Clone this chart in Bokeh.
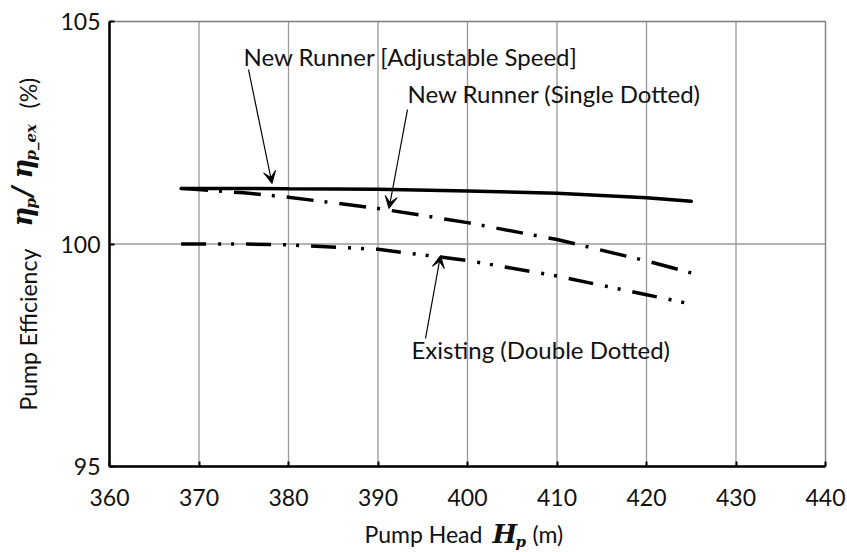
import math
from bokeh.plotting import figure
from bokeh.models import Range1d, Label, Arrow, VeeHead, FixedTicker, LinearAxis, BoxAnnotation
from bokeh.embed import file_html
from bokeh.resources import INLINE

# ---- data ----
head = [368, 375, 380, 390, 400, 410, 420, 425]
adjustable_speed = [101.25, 101.25, 101.24, 101.23, 101.19, 101.14, 101.04, 100.96]
single_dotted = [101.25, 101.15, 101.05, 100.80, 100.48, 100.10, 99.62, 99.35]
double_dotted = [100.00, 100.00, 99.98, 99.88, 99.63, 99.28, 98.86, 98.65]
x_ticks = [360, 370, 380, 390, 400, 410, 420, 430, 440]
y_ticks = [95, 100, 105]

W, H = 847, 552
FL, FR, FT, FB = 109, 22, 21, 86   # plot-area borders in px
X0, X1, Y0, Y1 = 360, 440, 95, 105
SX = (W - FL - FR) / (X1 - X0)
SY = (H - FT - FB) / (Y1 - Y0)

# the frame covers the whole canvas; the plot area is the 360-440 / 95-105 box inside it
p = figure(width=W, height=H, output_backend="svg", toolbar_location=None,
           x_axis_location=None, y_axis_location=None,
           x_range=Range1d(X0 - FL / SX, X1 + FR / SX),
           y_range=Range1d(Y0 - FB / SY, Y1 + FT / SY),
           min_border=0)
p.background_fill_color = "white"
p.border_fill_color = "white"
p.outline_line_color = None
p.grid.visible = False

FONT = "Lato"
FS = "23px"
AFS = "24px"
SERIF = "DejaVu Serif"

def dx(px):
    return X0 + (px - FL) / SX
def dy(py):
    return Y1 - (py - FT) / SY

# grid lines at the tick positions, limited to the plot box
p.segment(x0=x_ticks, y0=[Y0] * len(x_ticks), x1=x_ticks, y1=[Y1] * len(x_ticks),
          line_color="#9a9a9a", line_width=1.3, level="underlay")
p.segment(x0=[X0] * len(y_ticks), y0=y_ticks, x1=[X1] * len(y_ticks), y1=y_ticks,
          line_color="#9a9a9a", line_width=1.3, level="underlay")
p.add_layout(BoxAnnotation(left=X0, right=X1, bottom=Y0, top=Y1, fill_color=None,
                           line_color="#444444", line_width=1.5, level="underlay"))

# axes fixed at the plot box edges
xax = LinearAxis(fixed_location=Y0, bounds=(X0, X1))
yax = LinearAxis(fixed_location=X0, bounds=(Y0, Y1))
for ax in (xax, yax):
    ax.axis_line_color = "black"
    ax.axis_line_width = 2.5
    ax.major_tick_in = 5
    ax.major_tick_out = 0
    ax.major_tick_line_color = "black"
    ax.major_tick_line_width = 2
    ax.minor_tick_line_color = None
    ax.major_label_text_font = FONT
    ax.major_label_text_font_size = FS
    ax.major_label_text_color = "#111111"
    ax.axis_label = None
xax.ticker = FixedTicker(ticks=x_ticks)
yax.ticker = FixedTicker(ticks=y_ticks)
xax.major_label_standoff = 22
yax.major_label_standoff = 9
p.add_layout(xax, "below")
p.add_layout(yax, "left")

# ---- series ----
p.line(head, adjustable_speed, line_color="black", line_width=3.5, line_cap="round")
p.line(head, single_dotted, line_color="black", line_width=3.5, line_dash="27 11 3 12")
p.line(head, double_dotted, line_color="black", line_width=3.5, line_dash="25 12 3 10 3 12")

def lab(txt, px, py, size=AFS, font=FONT, style="normal", angle=0.0, baseline="middle"):
    p.add_layout(Label(x=dx(px), y=dy(py), text=txt, text_font=font, text_font_size=size,
                       text_font_style=style, angle=angle, text_align="left",
                       text_baseline=baseline, text_color="#111111"))

# annotations
lab("New Runner [Adjustable Speed]", 243, 56)
lab("New Runner (Single Dotted)", 407, 93)
lab("Existing (Double Dotted)", 411, 349)

def arrow(x0, y0, x1, y1):
    p.add_layout(Arrow(end=VeeHead(size=12, fill_color="black", line_color="black", line_width=1),
                       x_start=dx(x0), y_start=dy(y0), x_end=dx(x1), y_end=dy(y1),
                       line_color="black", line_width=1.2))

arrow(248, 69, 271.5, 183)
arrow(407, 109, 388.5, 208)
arrow(425, 338, 440, 255)

# x axis title
AB = "alphabetic"
lab("Pump Head", 364, 533, size=FS, baseline=AB)
lab("H", 492, 533, size="26px", font=SERIF, style="bold italic", baseline=AB)
lab("p", 515, 541, size="15px", font=SERIF, style="bold italic", baseline=AB)
lab("(m)", 532, 533, size=FS, baseline=AB)

# y axis title (rotated)
R = math.pi / 2
lab("Pump Efficiency", 27, 410, size=FS, angle=R, baseline=AB)
lab("η", 22, 226, size="27px", font=SERIF, style="bold italic", angle=R, baseline=AB)
lab("p", 30, 208, size="15px", font=SERIF, style="bold italic", angle=R, baseline=AB)
lab("/", 22, 196, size="27px", font=SERIF, style="bold italic", angle=R, baseline=AB)
lab("η", 22, 178, size="27px", font=SERIF, style="bold italic", angle=R, baseline=AB)
lab("p_ex", 30, 160, size="15px", font=SERIF, style="bold italic", angle=R, baseline=AB)
lab("(%)", 27, 108, size=FS, angle=R, baseline=AB)

open("out.html", "w").write(file_html(p, INLINE))
